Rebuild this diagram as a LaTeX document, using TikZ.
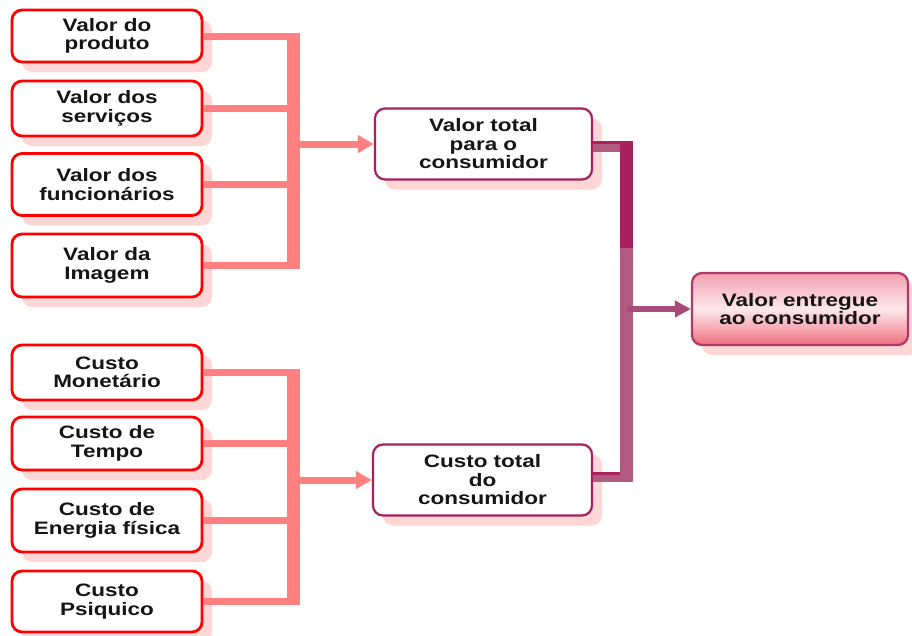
\documentclass[tikz,border=0pt]{standalone}
\usepackage{fontspec}
\newfontfamily\boxfont[FakeStretch=1.25]{Liberation Sans Bold}
\usetikzlibrary{arrows.meta,shadows}
\definecolor{boxred}{HTML}{FF0000}
\definecolor{conn}{HTML}{FF8080}
\definecolor{shad}{HTML}{FFD6D6}
\definecolor{plum}{HTML}{A8205C}
\definecolor{mauve}{HTML}{B05A80}
\definecolor{mauvearrow}{HTML}{A84A7A}
\definecolor{txt}{HTML}{151515}
\definecolor{vetop}{HTML}{F4A0AE}
\definecolor{vemid}{HTML}{FDE8EC}
\definecolor{vebot}{HTML}{F07080}
\definecolor{veborder}{HTML}{B03868}
\begin{document}
\begin{tikzpicture}[x=1pt,y=-1pt,
  box/.style={draw, rounded corners=10pt, align=center,
    font=\boxfont\fontsize{18}{18.5}\selectfont, text=txt, inner sep=0pt,
    fill=white, general shadow={fill=shad, shadow xshift=10pt, shadow yshift=-10pt}},
  leftbox/.style={box, draw=boxred, line width=2.8pt, minimum width=190pt},
  midbox/.style={box, draw=plum, line width=2.2pt, minimum height=71pt},
  endbox/.style={box, draw=veborder, line width=2.2pt, top color=vetop,
    bottom color=vebot, middle color=vemid, minimum width=216pt, minimum height=72pt},
  feed/.style={conn, line width=7pt},
  feedbar/.style={conn, line width=13pt},
  feedarrow/.style={conn, line width=7pt, -{Triangle[length=16pt,width=17pt]}},
  sumline/.style={mauve, line width=10pt},
  sumband/.style={plum, line width=3pt},
  sumarrow/.style={mauvearrow, line width=6pt, -{Triangle[length=16pt,width=16pt]}}
]
\useasboundingbox (0,0) rectangle (912,635);

% left boxes
\node[leftbox, minimum height=52pt] (b1) at (107,36) {Valor do\\produto};
\node[leftbox, minimum height=55pt] (b2) at (107,108.5) {Valor dos\\serviços};
\node[leftbox, minimum height=62pt] (b3) at (107,184.5) {Valor dos\\funcionários};
\node[leftbox, minimum height=63pt] (b4) at (107,265.5) {Valor da\\Imagem};
\node[leftbox, minimum height=55pt] (b5) at (107,372.5) {Custo\\Monetário};
\node[leftbox, minimum height=53pt] (b6) at (107,443.5) {Custo de\\Tempo};
\node[leftbox, minimum height=63pt] (b7) at (107,520.5) {Custo de\\Energia física};
\node[leftbox, minimum height=61pt] (b8) at (107,601.5) {Custo\\Psiquico};

% middle boxes
\node[midbox, minimum width=217pt] (vt) at (483.5,144) {Valor total\\para o\\consumidor};
\node[midbox, minimum width=219pt] (ct) at (482.5,480) {Custo total\\do\\consumidor};

% final box
\node[endbox] (ve) at (800,309) {Valor entregue\\ao consumidor};

% left connectors, upper group
\foreach \b in {b1,b2,b3,b4}
  \draw[feed] (\b.east) -- (\b.east -| 300,0);
\draw[feedbar] ([yshift=3.5pt]b1.east -| 293.5,0) -- ([yshift=-3.5pt]b4.east -| 293.5,0);
\draw[feedarrow] (vt.west -| 293.5,0) -- (vt.west);

% left connectors, lower group
\foreach \b in {b5,b6,b7,b8}
  \draw[feed] (\b.east) -- (\b.east -| 300,0);
\draw[feedbar] ([yshift=3.5pt]b5.east -| 293.5,0) -- ([yshift=-3.5pt]b8.east -| 293.5,0);
\draw[feedarrow] (ct.west -| 293.5,0) -- (ct.west);

% right connectors
\coordinate (jtop) at (626.5,142);
\coordinate (jmid) at (626.5,248);
\coordinate (jbot) at (626.5,482);
\draw[sumline] ([yshift=-3pt]vt.east) -- ([yshift=-3pt]vt.east -| 633,0);
\draw[sumband] ([yshift=1.5pt]vt.east) -- ([yshift=1.5pt]vt.east -| 633,0);
\draw[sumline] ([yshift=3pt]ct.east) -- ([yshift=3pt]ct.east -| 633,0);
\draw[sumband] ([yshift=7pt]ct.east) -- ([yshift=7pt]ct.east -| 633,0);
\draw[plum, line width=13pt] (jtop) -- (jmid);
\draw[mauve, line width=13pt] (jmid) -- (jbot);
\draw[sumarrow] (ve.west -| jtop) -- (ve.west);
\end{tikzpicture}
\end{document}
